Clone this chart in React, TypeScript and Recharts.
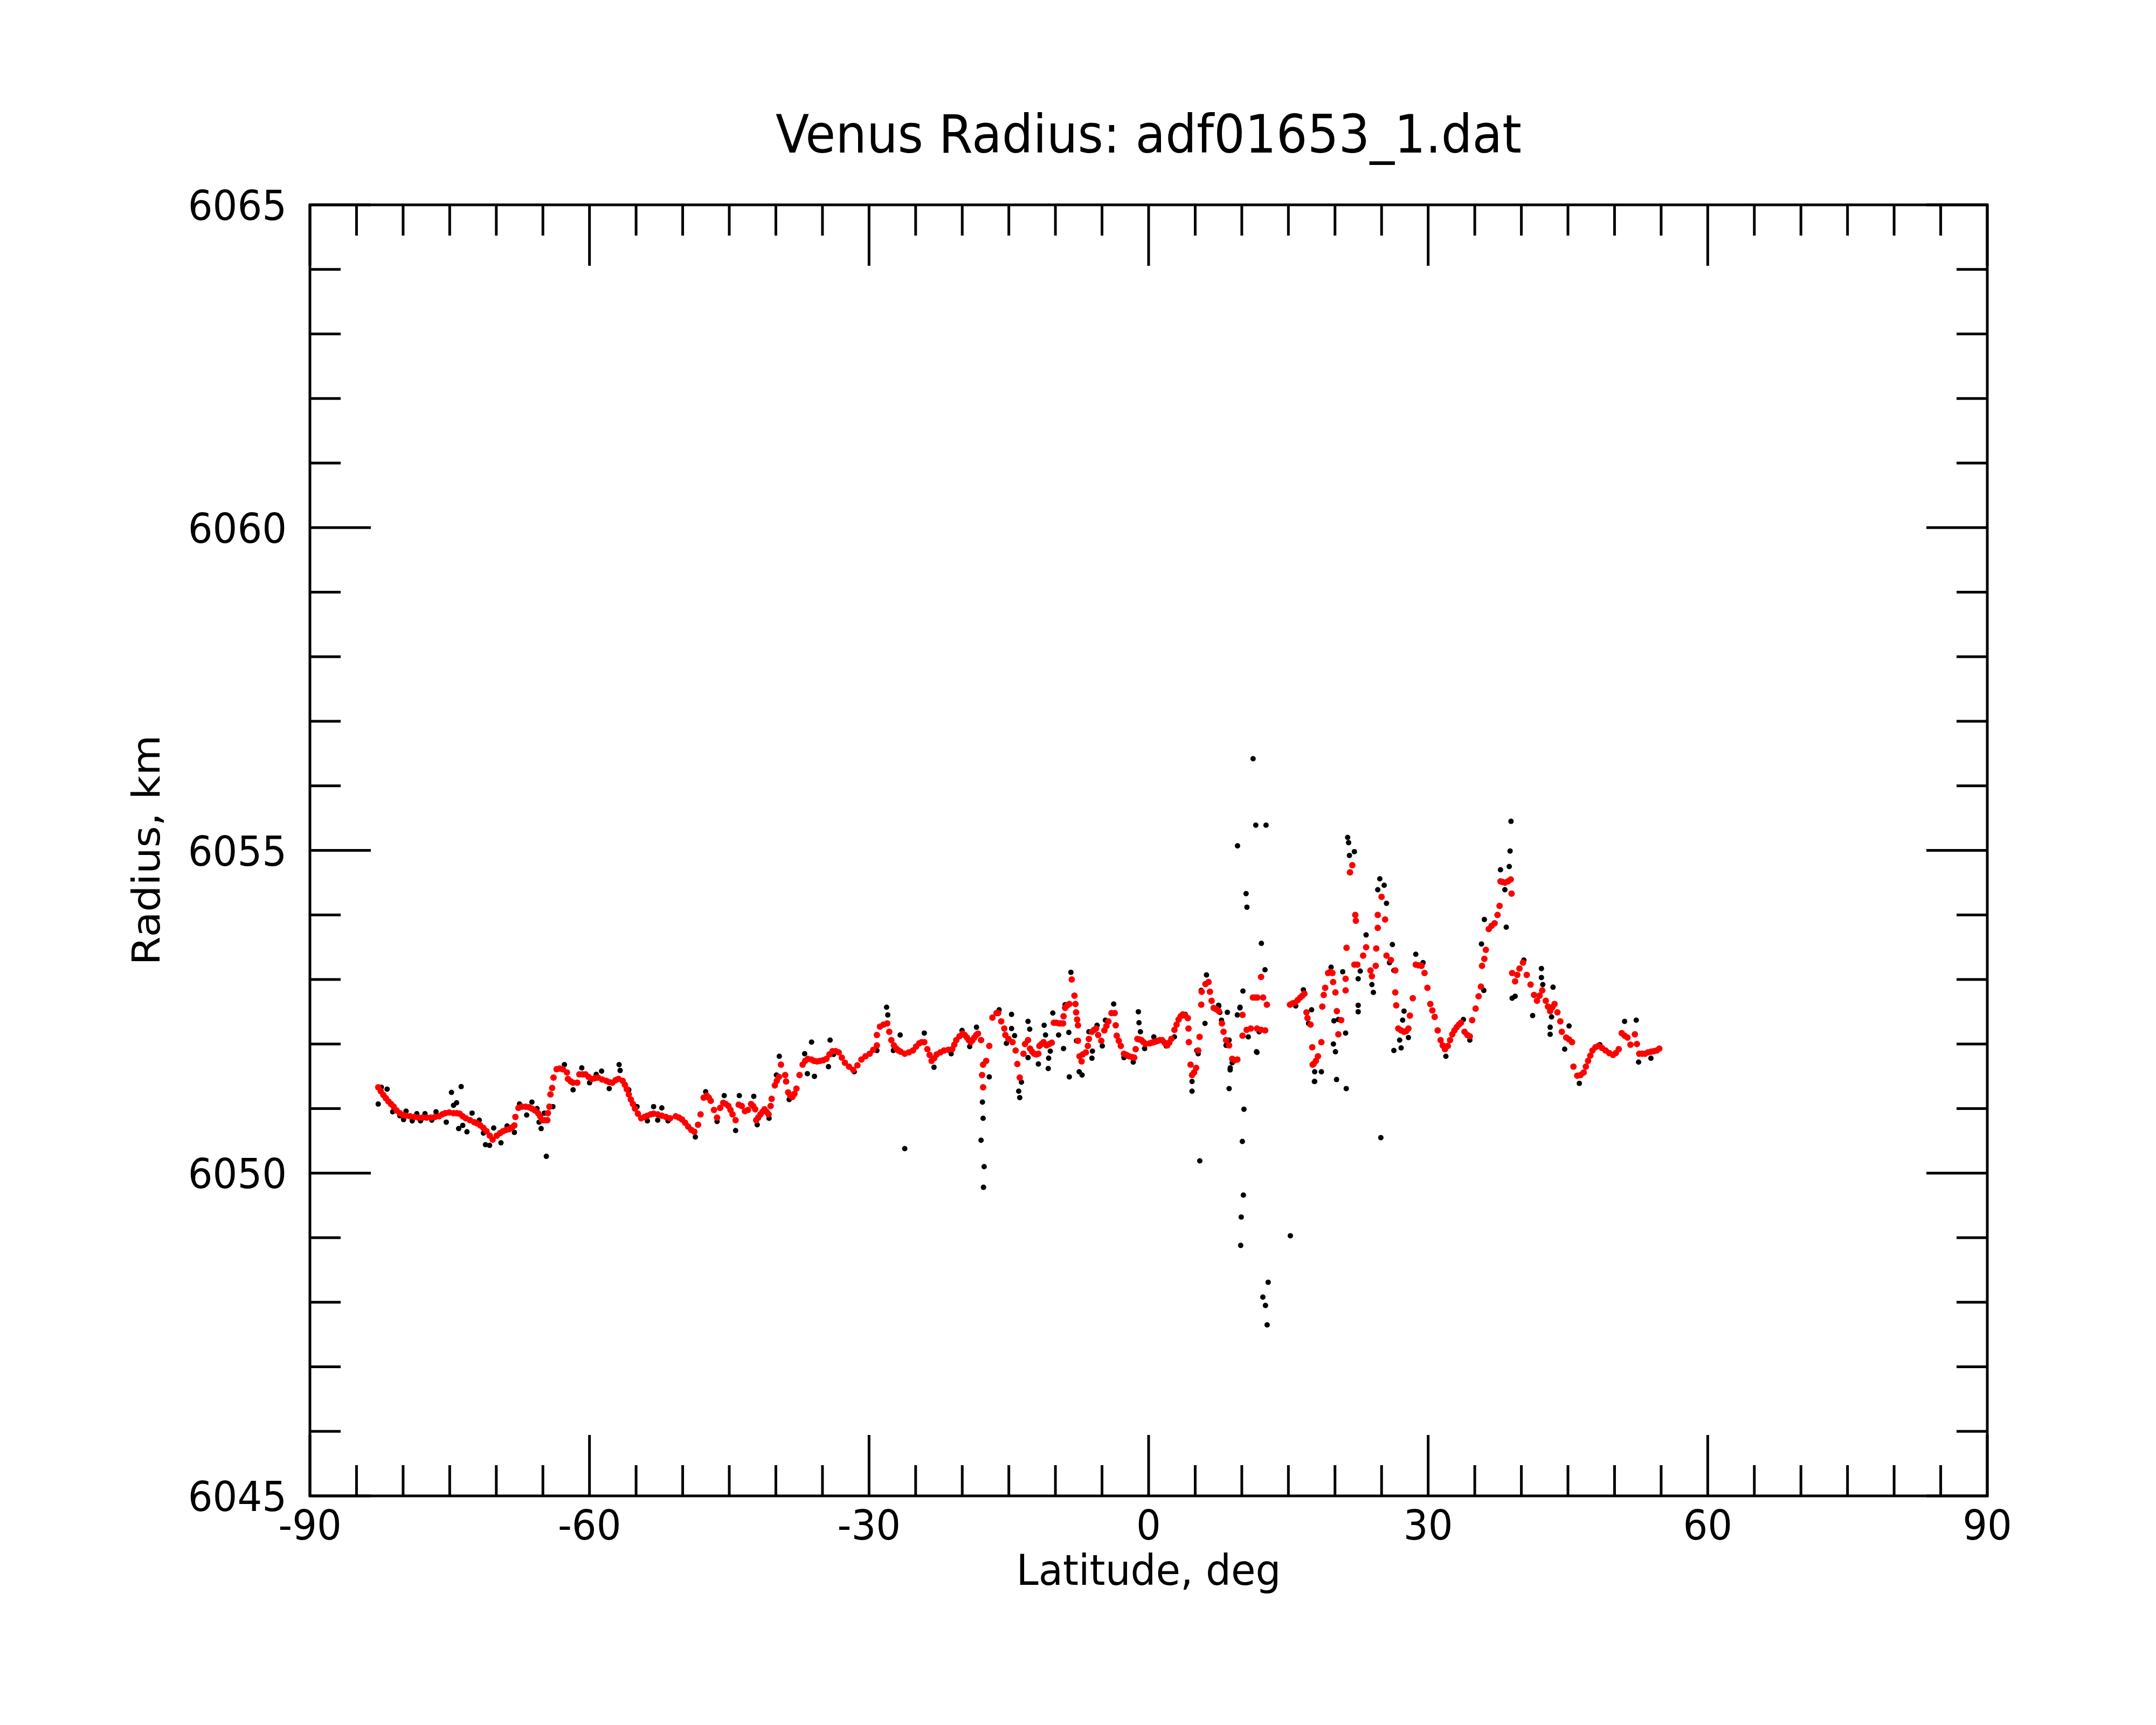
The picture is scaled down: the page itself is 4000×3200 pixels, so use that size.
import { ScatterChart, Scatter, XAxis, YAxis, ReferenceArea } from "recharts";

// [latitude deg, radius km]
const smoothSouth: [number, number][] = [
  [-82.67, 6051.33], [-82.4, 6051.27], [-82.12, 6051.21], [-81.85, 6051.16], [-81.57, 6051.11],
  [-81.3, 6051.07], [-81.01, 6051.03], [-80.7, 6050.97], [-80.35, 6050.93], [-80.0, 6050.9],
  [-79.68, 6050.89], [-79.25, 6050.88], [-78.8, 6050.87], [-78.35, 6050.86], [-77.91, 6050.86],
  [-77.47, 6050.86], [-77.03, 6050.86], [-76.58, 6050.87], [-76.14, 6050.88], [-75.8, 6050.91],
  [-75.48, 6050.93], [-75.05, 6050.94], [-74.59, 6050.93], [-74.25, 6050.93], [-73.93, 6050.92],
  [-73.6, 6050.88], [-73.27, 6050.85], [-72.82, 6050.82], [-72.38, 6050.79], [-72.05, 6050.77],
  [-71.72, 6050.74], [-71.38, 6050.7], [-71.05, 6050.65], [-70.7, 6050.58], [-70.39, 6050.52],
  [-69.95, 6050.58], [-69.6, 6050.62], [-69.28, 6050.65], [-68.95, 6050.67], [-68.62, 6050.68],
  [-68.3, 6050.71], [-68.06, 6050.74], [-67.95, 6050.87], [-67.62, 6051.01], [-67.25, 6051.03],
  [-66.85, 6051.03], [-66.5, 6051.02], [-66.18, 6051.0], [-65.85, 6050.97], [-65.52, 6050.93],
  [-65.3, 6050.88], [-65.08, 6050.82], [-64.8, 6050.82], [-64.52, 6050.82], [-64.46, 6050.93],
  [-64.3, 6051.03], [-64.19, 6051.22], [-64.01, 6051.32], [-63.86, 6051.48], [-63.53, 6051.61],
  [-63.2, 6051.62], [-62.86, 6051.61], [-62.42, 6051.56], [-62.31, 6051.46], [-62.0, 6051.42],
  [-61.76, 6051.4], [-61.31, 6051.4], [-61.09, 6051.53], [-60.75, 6051.53], [-60.43, 6051.53],
  [-60.1, 6051.49], [-59.76, 6051.46], [-59.43, 6051.47], [-59.1, 6051.48], [-58.65, 6051.45],
  [-58.21, 6051.43], [-57.88, 6051.41], [-57.55, 6051.4], [-57.2, 6051.44], [-56.89, 6051.46],
  [-56.44, 6051.43], [-56.2, 6051.37], [-56.0, 6051.3], [-55.78, 6051.22], [-55.56, 6051.14],
  [-55.34, 6051.07], [-55.12, 6051.0], [-54.8, 6050.92], [-54.45, 6050.85], [-54.1, 6050.87],
  [-53.79, 6050.89], [-53.45, 6050.91], [-53.12, 6050.92], [-52.68, 6050.91], [-52.24, 6050.89],
  [-51.8, 6050.87], [-51.35, 6050.85],
];

const smoothMid: [number, number][] = [
  [-50.74, 6050.88], [-50.4, 6050.86], [-50.07, 6050.83], [-49.74, 6050.78], [-49.41, 6050.72],
  [-49.08, 6050.67], [-48.75, 6050.64], [-48.35, 6050.75], [-48.08, 6050.91], [-47.75, 6051.17],
  [-47.42, 6051.2], [-47.2, 6051.17], [-46.98, 6051.12], [-46.64, 6050.98], [-46.31, 6050.86],
  [-45.98, 6051.01], [-45.65, 6051.09], [-45.37, 6051.07], [-45.09, 6051.04], [-44.87, 6050.98],
  [-44.65, 6050.91], [-44.32, 6050.82], [-43.99, 6051.06], [-43.66, 6051.04], [-43.32, 6050.96],
  [-42.99, 6050.98], [-42.66, 6051.07], [-42.44, 6051.04], [-42.22, 6050.99], [-42.11, 6050.82],
  [-41.9, 6050.86], [-41.66, 6050.91], [-41.44, 6050.95], [-41.22, 6050.99], [-41.0, 6050.95],
  [-40.78, 6050.91], [-40.56, 6051.04], [-40.45, 6051.15], [-40.11, 6051.36], [-39.9, 6051.43],
  [-39.67, 6051.49], [-39.45, 6051.68], [-39.0, 6051.52], [-38.9, 6051.42], [-38.68, 6051.25],
  [-38.45, 6051.2], [-38.23, 6051.18], [-38.0, 6051.23], [-37.79, 6051.31], [-37.46, 6051.52],
  [-37.13, 6051.68], [-36.85, 6051.74], [-36.57, 6051.77], [-36.2, 6051.76], [-35.91, 6051.74],
  [-35.58, 6051.73], [-35.25, 6051.74], [-34.9, 6051.75], [-34.58, 6051.77], [-34.25, 6051.84],
  [-33.92, 6051.89], [-33.58, 6051.89], [-33.25, 6051.87], [-32.92, 6051.79], [-32.59, 6051.71],
  [-32.15, 6051.65], [-31.7, 6051.6], [-31.25, 6051.67], [-30.82, 6051.76], [-30.38, 6051.81],
  [-29.93, 6051.85], [-29.55, 6051.91], [-29.16, 6051.98], [-29.16, 6052.14], [-28.83, 6052.27],
  [-28.45, 6052.3], [-28.05, 6052.32], [-27.83, 6052.19], [-27.61, 6052.06], [-27.33, 6051.98],
  [-27.06, 6051.93], [-26.83, 6051.9], [-26.6, 6051.88], [-26.17, 6051.85], [-25.73, 6051.87],
  [-25.29, 6051.9], [-24.95, 6051.96], [-24.62, 6052.01], [-24.35, 6052.03], [-24.07, 6052.03],
  [-23.74, 6051.92], [-23.5, 6051.83], [-23.29, 6051.74], [-23.0, 6051.78], [-22.74, 6051.84],
  [-22.35, 6051.87], [-21.96, 6051.9], [-21.5, 6051.91], [-21.08, 6051.92], [-20.85, 6051.99],
  [-20.64, 6052.06], [-20.3, 6052.12], [-19.97, 6052.16], [-19.73, 6052.14], [-19.5, 6052.1],
  [-19.3, 6052.06], [-19.09, 6052.03], [-18.9, 6052.06], [-18.7, 6052.1], [-18.5, 6052.14],
  [-18.31, 6052.16], [-17.98, 6052.06], [-17.87, 6051.52], [-17.76, 6051.68], [-17.76, 6051.33],
  [-17.43, 6051.74], [-17.1, 6051.97], [-16.76, 6052.41], [-16.32, 6052.48],
];

const smoothEquator: [number, number][] = [
  [-16.15, 6052.48], [-15.82, 6052.35], [-15.49, 6052.24], [-15.37, 6052.14], [-15.04, 6052.08],
  [-14.6, 6052.03], [-14.27, 6051.9], [-14.09, 6051.69], [-13.83, 6051.48], [-13.43, 6051.85],
  [-13.27, 6052.0], [-12.94, 6052.06], [-12.72, 6051.93], [-12.5, 6051.88], [-12.28, 6051.85],
  [-12.05, 6051.84], [-11.83, 6051.85], [-11.72, 6051.97], [-11.5, 6052.0], [-11.28, 6052.03],
  [-10.95, 6051.98], [-10.67, 6052.0], [-10.39, 6052.02], [-10.17, 6052.33], [-9.9, 6052.33],
  [-9.62, 6052.32], [-9.4, 6052.32], [-9.18, 6052.32], [-9.13, 6052.43], [-8.96, 6052.56],
  [-8.73, 6052.6], [-8.51, 6052.62], [-8.25, 6053.0], [-7.96, 6052.75], [-7.85, 6052.62],
  [-7.78, 6052.49], [-7.67, 6052.38], [-7.58, 6052.29], [-7.58, 6052.05], [-7.41, 6051.81],
  [-7.19, 6051.73], [-7.07, 6051.84], [-6.74, 6051.87], [-6.52, 6051.97], [-6.41, 6052.08],
  [-6.08, 6052.19], [-5.86, 6052.22], [-5.64, 6052.24], [-5.42, 6052.14], [-5.08, 6052.05],
  [-4.75, 6052.21], [-4.53, 6052.28], [-4.31, 6052.35], [-3.98, 6052.48], [-3.64, 6052.48],
  [-3.53, 6052.29], [-3.42, 6052.13], [-3.2, 6052.05], [-2.98, 6051.97], [-2.65, 6051.85],
  [-2.37, 6051.83], [-2.09, 6051.81], [-1.8, 6051.8], [-1.54, 6051.79], [-1.39, 6051.92],
  [-1.21, 6052.08], [-1.0, 6052.07], [-0.77, 6052.06], [-0.55, 6052.03], [-0.32, 6052.0],
  [0.12, 6052.01], [0.34, 6052.02], [0.56, 6052.03], [0.78, 6052.04], [1.0, 6052.05],
  [1.22, 6052.06], [1.45, 6052.06], [1.72, 6052.02], [2.0, 6051.98], [2.22, 6052.02],
  [2.44, 6052.08], [2.77, 6052.22], [3.0, 6052.3], [3.22, 6052.38], [3.44, 6052.43],
  [3.66, 6052.46], [3.93, 6052.44], [4.21, 6052.4], [4.28, 6052.24], [4.32, 6052.03],
  [4.5, 6051.68], [4.66, 6051.52], [4.88, 6051.56], [5.1, 6051.63], [5.32, 6051.9],
  [5.47, 6052.11], [5.65, 6052.61], [5.7, 6052.81], [6.1, 6052.93], [6.43, 6052.96],
  [6.58, 6052.81], [6.76, 6052.67], [6.98, 6052.56], [7.25, 6052.54], [7.53, 6052.51],
  [7.87, 6052.32], [8.04, 6052.19], [8.31, 6052.06], [8.64, 6051.98], [8.97, 6051.77],
  [9.25, 6051.75], [9.52, 6051.76], [10.08, 6052.13], [10.52, 6052.22], [10.08, 6052.45],
  [10.96, 6052.24], [11.19, 6052.72], [11.43, 6052.72], [11.67, 6052.72], [12.07, 6053.04],
  [12.29, 6052.72], [11.63, 6052.24], [12.07, 6052.22], [12.51, 6052.21], [12.69, 6052.61],
  [15.17, 6052.61], [15.45, 6052.63], [15.72, 6052.64], [16.0, 6052.68], [16.28, 6052.72],
  [16.5, 6052.75], [16.72, 6052.78], [16.94, 6052.49], [17.05, 6052.4], [17.38, 6052.3],
  [17.56, 6051.95], [17.6, 6051.68],
];

const smoothNorth: [number, number][] = [
  [17.7, 6051.69], [17.95, 6051.74], [18.17, 6051.81], [18.54, 6052.03], [18.64, 6052.58],
  [18.79, 6052.76], [18.95, 6052.87], [19.26, 6053.1], [19.5, 6053.12], [19.73, 6053.1],
  [19.8, 6052.96], [20.05, 6052.8], [20.2, 6052.51], [20.67, 6052.37], [20.36, 6052.15],
  [21.14, 6053.01], [21.14, 6052.83], [21.24, 6053.49], [21.61, 6054.66], [21.86, 6054.77],
  [22.18, 6054.0], [22.24, 6053.91], [22.08, 6053.23], [22.4, 6053.23], [23.02, 6053.37],
  [23.34, 6053.5], [23.81, 6053.14], [23.96, 6053.05], [24.43, 6053.48], [24.37, 6053.21],
  [24.59, 6053.8], [25.0, 6054.28], [24.59, 6054.0], [25.38, 6053.93], [25.53, 6053.37],
  [26.0, 6053.3], [26.47, 6053.14], [26.47, 6052.8], [26.57, 6052.6], [26.79, 6052.24],
  [27.1, 6052.21], [27.41, 6052.19], [27.65, 6052.2], [27.88, 6052.24], [28.04, 6052.44],
  [28.35, 6052.71], [28.67, 6053.23], [28.98, 6053.22], [29.29, 6053.21], [29.61, 6053.1],
  [29.92, 6052.87], [30.23, 6052.62], [30.45, 6052.52], [30.7, 6052.42], [31.02, 6052.21],
  [31.33, 6052.06], [31.56, 6051.98], [31.8, 6051.92], [32.11, 6051.97], [32.35, 6052.06],
  [32.59, 6052.15], [32.82, 6052.21], [33.06, 6052.26], [33.3, 6052.3], [33.52, 6052.33],
  [33.9, 6052.19], [34.2, 6052.14], [34.47, 6052.12], [34.72, 6052.37], [35.09, 6052.55],
  [35.41, 6052.74], [35.66, 6052.89], [35.78, 6053.21], [36.03, 6053.32], [36.19, 6053.46],
  [36.5, 6053.78], [36.8, 6053.83], [37.13, 6053.87], [37.44, 6054.0], [37.66, 6054.14],
  [37.76, 6054.52], [38.0, 6054.51], [38.23, 6054.5], [38.55, 6054.52], [38.86, 6054.55],
  [38.95, 6054.33], [39.01, 6053.1], [39.33, 6052.97], [39.56, 6053.07], [39.8, 6053.17],
  [40.17, 6053.26], [40.58, 6053.07], [40.99, 6052.92], [41.36, 6052.76], [41.68, 6052.67],
  [41.96, 6052.75], [42.24, 6052.83], [42.62, 6052.67], [42.85, 6052.58], [43.09, 6052.51],
  [43.33, 6052.57], [43.56, 6052.62], [43.87, 6052.49], [44.18, 6052.35], [44.34, 6052.19],
  [44.81, 6052.1], [45.12, 6052.07], [45.44, 6052.03], [45.59, 6051.65], [46.0, 6051.51],
  [46.35, 6051.52], [46.69, 6051.56], [46.92, 6051.65], [47.16, 6051.74], [47.4, 6051.82],
  [47.63, 6051.9], [47.95, 6051.95], [48.26, 6051.97], [48.65, 6051.94], [49.04, 6051.9],
  [49.43, 6051.86], [49.83, 6051.83], [50.14, 6051.86], [50.45, 6051.92], [50.77, 6052.17],
  [51.08, 6052.13], [51.39, 6052.1], [51.71, 6051.99], [52.18, 6052.15], [52.4, 6052.0],
  [52.65, 6051.85], [52.96, 6051.85], [53.27, 6051.85], [53.58, 6051.87], [53.9, 6051.88],
  [54.2, 6051.89], [54.53, 6051.9], [54.8, 6051.93],
];

const rawSouth: [number, number][] = [
  [-82.67, 6051.07], [-82.34, 6051.33], [-81.72, 6051.3], [-81.12, 6050.95], [-80.35, 6050.89],
  [-79.95, 6050.83], [-79.68, 6050.96], [-79.02, 6050.81], [-78.53, 6050.92], [-78.13, 6050.81],
  [-77.65, 6050.92], [-76.92, 6050.82], [-76.47, 6050.95], [-75.37, 6050.79], [-74.81, 6051.25],
  [-74.59, 6051.05], [-74.26, 6051.09], [-73.77, 6051.34], [-74.04, 6050.69], [-73.6, 6050.74],
  [-73.15, 6050.64], [-72.6, 6050.93], [-71.83, 6050.82], [-71.38, 6050.62], [-71.16, 6050.44],
  [-70.72, 6050.43], [-70.28, 6050.7], [-69.5, 6050.47], [-68.84, 6050.73], [-68.06, 6050.63],
  [-67.51, 6051.07], [-66.74, 6050.9], [-66.18, 6051.1], [-65.63, 6051.0], [-65.41, 6050.79],
  [-65.19, 6050.69], [-64.85, 6050.93], [-64.63, 6050.26], [-63.93, 6051.03], [-62.69, 6051.68],
  [-61.76, 6051.29], [-60.83, 6051.63], [-59.99, 6051.4], [-59.28, 6051.53], [-58.7, 6051.58],
  [-57.88, 6051.31], [-56.82, 6051.68], [-56.71, 6051.59], [-55.78, 6051.29], [-54.9, 6051.03],
  [-53.79, 6050.81], [-53.12, 6051.03], [-52.68, 6050.82], [-52.24, 6051.01], [-51.57, 6050.81],
];

const rawMid: [number, number][] = [
  [-48.64, 6050.56], [-47.53, 6051.26], [-46.31, 6050.8], [-45.54, 6051.2], [-44.32, 6050.66],
  [-43.92, 6051.2], [-42.37, 6051.19], [-42.0, 6050.75], [-40.73, 6050.85], [-39.63, 6051.81],
  [-39.94, 6051.52], [-38.57, 6051.14], [-36.91, 6051.85], [-36.17, 6052.03], [-36.62, 6051.54],
  [-35.86, 6051.5], [-34.18, 6052.06], [-34.36, 6051.65], [-33.81, 6051.84], [-31.59, 6051.57],
  [-29.16, 6051.9], [-28.12, 6052.57], [-27.99, 6052.45], [-27.39, 6051.9], [-26.66, 6052.14],
  [-26.17, 6050.38], [-24.07, 6052.17], [-23.03, 6051.64], [-21.19, 6051.85], [-20.02, 6052.21],
  [-19.2, 6051.96], [-18.47, 6052.26], [-17.83, 6051.1], [-17.76, 6050.85], [-17.98, 6050.51],
  [-17.65, 6050.1], [-17.72, 6049.78], [-17.1, 6051.49],
];

const rawEquator: [number, number][] = [
  [-16.04, 6052.53], [-14.71, 6052.46], [-14.71, 6052.24], [-15.26, 6052.01], [-14.38, 6052.13],
  [-13.65, 6051.41], [-13.94, 6051.27], [-13.83, 6051.17], [-12.94, 6052.35], [-12.76, 6052.23],
  [-12.94, 6051.79], [-11.83, 6051.69], [-11.21, 6052.29], [-11.06, 6052.14], [-10.55, 6051.89],
  [-10.73, 6051.78], [-10.77, 6051.62], [-10.28, 6052.48], [-9.66, 6052.14], [-9.13, 6051.93],
  [-8.56, 6052.18], [-8.51, 6051.49], [-8.34, 6053.11], [-8.96, 6052.61], [-7.74, 6052.05],
  [-7.45, 6051.57], [-7.14, 6051.52], [-6.41, 6052.19], [-6.03, 6051.89], [-6.08, 6051.78],
  [-5.53, 6052.29], [-4.97, 6051.97], [-4.64, 6052.37], [-3.75, 6052.62], [-2.65, 6051.79],
  [-1.65, 6051.72], [-1.1, 6052.5], [-1.03, 6052.33], [-0.88, 6052.19], [-0.43, 6051.93],
  [0.56, 6052.11], [1.89, 6051.97], [2.77, 6052.11], [3.93, 6052.46], [4.66, 6051.42],
  [4.66, 6051.27], [5.17, 6051.9], [5.32, 6051.85], [6.05, 6052.32], [6.21, 6053.07],
  [5.65, 6052.83], [7.53, 6052.59], [7.64, 6052.49], [8.31, 6051.98], [8.64, 6052.06],
  [8.97, 6051.71], [8.75, 6051.6], [8.64, 6051.31], [9.52, 6052.45], [9.81, 6052.57],
  [10.12, 6052.82], [10.7, 6052.11], [11.63, 6051.87], [11.85, 6052.19], [15.79, 6052.59],
  [16.61, 6052.84], [17.49, 6052.53], [17.16, 6052.32], [17.82, 6051.57], [17.82, 6051.42],
  [7.51, 6052.6], [7.82, 6052.37], [8.45, 6052.49], [8.76, 6051.63], [9.8, 6052.56],
  [11.58, 6051.88],
];

const rawNorth: [number, number][] = [
  [38.89, 6055.45], [38.79, 6054.99], [38.7, 6054.75], [38.38, 6053.81], [37.76, 6054.7],
  [38.23, 6054.39], [36.03, 6053.93], [21.36, 6055.2], [21.46, 6055.12], [21.55, 6054.92],
  [22.08, 6054.98], [24.81, 6054.56], [25.28, 6054.46], [24.59, 6054.39], [25.53, 6054.18],
  [23.34, 6053.69], [22.71, 6053.13], [22.49, 6053.01], [22.49, 6052.6], [22.49, 6052.5],
  [21.14, 6052.17], [21.21, 6051.31], [20.17, 6051.45], [20.05, 6051.88], [19.83, 6052.0],
  [17.79, 6051.42], [18.54, 6051.57], [19.89, 6052.36], [20.36, 6052.38], [19.58, 6053.19],
  [20.83, 6053.12], [23.96, 6052.92], [24.12, 6052.8], [26.16, 6053.54], [25.85, 6053.26],
  [26.32, 6053.14], [26.32, 6051.9], [26.94, 6052.06], [27.41, 6052.51], [27.26, 6052.37],
  [27.88, 6052.1], [27.1, 6051.94], [28.67, 6053.39], [29.45, 6053.26], [31.9, 6051.81],
  [33.78, 6052.38], [34.47, 6052.06], [35.97, 6052.83], [35.72, 6053.55], [39.01, 6052.71],
  [39.33, 6052.74], [40.27, 6053.3], [41.21, 6052.44], [42.15, 6053.17], [42.15, 6053.03],
  [42.3, 6052.92], [43.4, 6052.88], [43.24, 6052.42], [43.09, 6052.26], [43.09, 6052.15],
  [45.12, 6052.28], [44.65, 6051.92], [46.22, 6051.39], [48.42, 6051.99], [51.08, 6052.35],
  [52.33, 6052.37], [52.58, 6051.72], [53.9, 6051.78],
];

const rawSpikes: [number, number][] = [
  [11.21, 6056.42], [11.5, 6055.39], [12.6, 6055.39], [9.54, 6055.07], [10.46, 6054.33],
  [10.55, 6054.12], [12.1, 6053.56], [12.49, 6053.15], [10.23, 6050.99], [10.06, 6050.49],
  [10.17, 6049.66], [9.94, 6049.32], [9.88, 6048.88], [12.83, 6048.31], [12.26, 6048.08],
  [12.54, 6047.95], [12.72, 6047.65], [15.21, 6049.03], [5.49, 6050.19], [24.92, 6050.55],
];

const latTicks = [
  -90, -85, -80, -75, -70, -65, -60, -55, -50, -45, -40, -35, -30, -25, -20, -15, -10, -5,
  0, 5, 10, 15, 20, 25, 30, 35, 40, 45, 50, 55, 60, 65, 70, 75, 80, 85, 90,
];
const latLabels = [-90, -60, -30, 0, 30, 60, 90];
const radiusTicks = [
  6045, 6046, 6047, 6048, 6049, 6050, 6051, 6052, 6053, 6054, 6055,
  6056, 6057, 6058, 6059, 6060, 6061, 6062, 6063, 6064, 6065,
];
const radiusLabels = [6045, 6050, 6055, 6060, 6065];

const PLOT_W = 3112;
const PLOT_H = 2395;
const STRETCH = 1.07;
const FONT = "DejaVu Sans";

const toPoints = (rows: [number, number][]) => rows.map(([lat, km]) => ({ lat, km }));
const smoothPoints = toPoints([...smoothSouth, ...smoothMid, ...smoothEquator, ...smoothNorth]);
const rawPoints = toPoints([...rawSouth, ...rawMid, ...rawEquator, ...rawNorth, ...rawSpikes]);

const dot = (color: string, r: number) => (props: any) =>
  <circle cx={props.cx} cy={props.cy} r={r} fill={color} />;

function RadiusTick(props: any) {
  const { x, y, payload } = props;
  const value = payload.value as number;
  const major = radiusLabels.includes(value);
  const len = major ? 113 : 57;
  return (
    <g>
      <line x1={x} y1={y} x2={x + len} y2={y} stroke="#000" strokeWidth={5} />
      <line x1={x + PLOT_W} y1={y} x2={x + PLOT_W - len} y2={y} stroke="#000" strokeWidth={5} />
      {major && (
        <text
          transform={`translate(${x - 43},${y + 28}) scale(1,${STRETCH})`}
          textAnchor="end"
          fontSize={72}
          fontFamily={FONT}
          fill="#000"
        >
          {value}
        </text>
      )}
    </g>
  );
}

function LatTick(props: any) {
  const { x, y, payload } = props;
  const value = payload.value as number;
  const major = latLabels.includes(value);
  const len = major ? 113 : 57;
  return (
    <g>
      <line x1={x} y1={y} x2={x} y2={y - len} stroke="#000" strokeWidth={5} />
      <line x1={x} y1={y - PLOT_H} x2={x} y2={y - PLOT_H + len} stroke="#000" strokeWidth={5} />
      {major && (
        <text
          transform={`translate(${x},${y + 81}) scale(1,${STRETCH})`}
          textAnchor="middle"
          fontSize={72}
          fontFamily={FONT}
          fill="#000"
        >
          {value}
        </text>
      )}
    </g>
  );
}

export default function App() {
  return (
    <div style={{ position: "absolute", left: 0, top: 0, width: 4000, height: 3200, background: "#fff" }}>
      <ScatterChart width={4000} height={3200} margin={{ top: 380, right: 313, bottom: 325, left: 475 }}>
        <XAxis
          type="number"
          dataKey="lat"
          domain={[-90, 90]}
          ticks={latTicks}
          interval={0}
          height={100}
          axisLine={false}
          tickLine={false}
          tickSize={0}
          tickMargin={0}
          tick={(p: any) => <LatTick {...p} />}
        />
        <YAxis
          type="number"
          dataKey="km"
          domain={[6045, 6065]}
          ticks={radiusTicks}
          interval={0}
          width={100}
          axisLine={false}
          tickLine={false}
          tickSize={0}
          tickMargin={0}
          tick={(p: any) => <RadiusTick {...p} />}
        />
        <ReferenceArea x1={-90} x2={90} y1={6045} y2={6065} fill="none" fillOpacity={0} stroke="#000" strokeWidth={5} />
        <Scatter data={rawPoints} shape={dot("#000000", 5)} isAnimationActive={false} />
        <Scatter data={smoothPoints} shape={dot("#ff0000", 6)} isAnimationActive={false} />
      </ScatterChart>
      <svg width={4000} height={3200} style={{ position: "absolute", left: 0, top: 0, pointerEvents: "none" }}>
        <text transform={`translate(2131,283) scale(1,${STRETCH})`} textAnchor="middle" fontSize={91} fontFamily={FONT} fill="#000">
          Venus Radius: adf01653_1.dat
        </text>
        <text transform={`translate(2131,2940) scale(1,${STRETCH})`} textAnchor="middle" fontSize={74} fontFamily={FONT} fill="#000">
          Latitude, deg
        </text>
        <text transform={`translate(296,1577) rotate(-90) scale(${STRETCH},1)`} textAnchor="middle" fontSize={72} fontFamily={FONT} fill="#000">
          Radius, km
        </text>
      </svg>
    </div>
  );
}
